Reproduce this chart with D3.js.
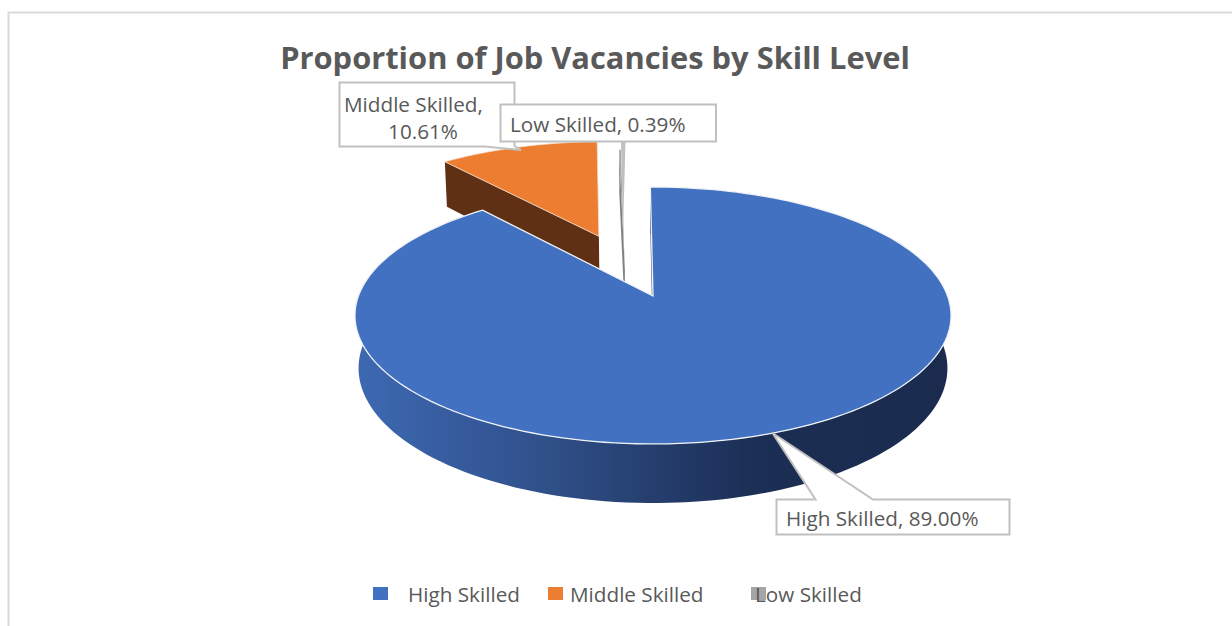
<!DOCTYPE html>
<html>
<head>
<meta charset="utf-8">
<script src="https://cdn.jsdelivr.net/npm/d3@7/dist/d3.min.js"></script>
<style>
html,body{margin:0;padding:0;background:#fff;overflow:hidden}
svg{display:block}
text{font-family:"Open Sans","Noto Sans",sans-serif;fill:#595959}
</style>
</head>
<body>
<svg id="chart" width="1232" height="626"></svg>
<script>
// ---- data ----
const chartTitle = "Proportion of Job Vacancies by Skill Level";
const categories = ["High Skilled", "Middle Skilled", "Low Skilled"];
const shares = [89.00, 10.61, 0.39];
const sliceColors = ["#4271c1", "#ed7d31", "#a5a5a5"];
const wallColors = ["#1a2b4e", "#5f3013", "#4a4a4a"];
const explodeDistance = [0, 0.55, 0.237];
const explodeDirectionDeg = [null, null, 335.4];
const radiusScale = [1, 1, 1.2];
const sweepScale = [1, 1, 0.25];
const pieRotationDeg = -0.6;

// ---- projection of the tilted disc ----
const P = {cx:653, cy:296, A:294.6, B:125.5, C:52.6, q:0.1518, r:0.012};
function project(u, v, z) {
  const d = 1 - P.q * v + P.r * z;
  return [P.cx + P.A * u / d, P.cy + (P.B * v + P.C * z) / d];
}
const rad = d => d * Math.PI / 180;
const line = d3.line();
const svg = d3.select("#chart");

const arcs = d3.pie().sort(null).value(d => d)
  .startAngle(rad(pieRotationDeg)).endAngle(rad(pieRotationDeg) + 2 * Math.PI)(shares);

const slices = arcs.map((a, i) => {
  const mid = (a.startAngle + a.endAngle) / 2;
  const dir = explodeDirectionDeg[i] === null ? mid : rad(explodeDirectionDeg[i]);
  const ou = explodeDistance[i] * Math.sin(dir), ov = -explodeDistance[i] * Math.cos(dir);
  const half = (a.endAngle - a.startAngle) / 2 * sweepScale[i];
  let a0 = mid - half, a1 = mid + half;
  if (i === 2) { a0 -= rad(0.5); a1 -= rad(0.5); }
  const R = radiusScale[i];
  const pt = (t, z) => project(ou + R * Math.sin(t), ov - R * Math.cos(t), z);
  const apex = z => project(ou, ov, z);
  const samples = d3.range(0, 181).map(k => a0 + (a1 - a0) * k / 180);
  return {i, a0, a1, pt, apex, samples};
});

const topFace = s => line([s.apex(0), ...s.samples.map(t => s.pt(t, 0))]) + "Z";
const cutFace = (s, t) => line([s.apex(0), s.pt(t, 0), s.pt(t, 1), s.apex(1)]) + "Z";
const rimWall = s => line([...s.samples.map(t => s.pt(t, 1)), ...s.samples.slice().reverse().map(t => s.pt(t, 0))]) + "Z";

// ---- gradient of the rim ----
const grad = svg.append("defs").append("linearGradient").attr("id", "rim")
  .attr("gradientUnits", "userSpaceOnUse").attr("x1", 355).attr("x2", 951).attr("y1", 0).attr("y2", 0);
[[0, "#3d69b2"], [0.2, "#35599a"], [0.33, "#2f4f88"], [0.5, "#253e6e"], [0.68, "#1b2e53"], [1, "#1a2b4e"]]
  .forEach(([o, c]) => grad.append("stop").attr("offset", o).attr("stop-color", c));

// ---- frame ----
svg.append("path").attr("d", "M8.5,626V12.5H1232").attr("fill", "none").attr("stroke", "#d9d9d9").attr("stroke-width", 2);

// ---- title ----
svg.append("text").attr("x", 595).attr("y", 69).attr("text-anchor", "middle")
  .attr("font-size", 30.85).attr("font-weight", 700).text(chartTitle);

// ---- slices ----
const [hi, mi, lo] = slices;
svg.append("path").attr("d", cutFace(mi, mi.a0)).attr("fill", wallColors[1]);
svg.append("path").attr("d", topFace(mi)).attr("fill", sliceColors[1]).attr("stroke", "#f6e3d6").attr("stroke-width", 0.8);
svg.append("path").attr("d", cutFace(lo, lo.a0)).attr("fill", wallColors[2]).attr("opacity", 0.7);
svg.append("path").attr("d", topFace(lo)).attr("fill", sliceColors[2]);
svg.append("path").attr("d", cutFace(hi, hi.a0)).attr("fill", "#44546a");
svg.append("path").attr("d", rimWall(hi)).attr("fill", "url(#rim)");
svg.append("path").attr("d", topFace(hi)).attr("fill", sliceColors[0]).attr("stroke", "#f0f3f8").attr("stroke-width", 1.3);

// ---- callouts ----
const calloutStroke = "#c0c0c0";
function callout(path) {
  svg.append("path").attr("d", path).attr("fill", "#fff").attr("stroke", calloutStroke)
    .attr("stroke-width", 2).attr("stroke-linejoin", "miter");
}
callout("M339.5,82.5H514.5V146L521,150L485,146.5H339.5Z");
callout("M776.5,499.5H815.5L772.5,433L873,499.5H1009.5V534.5H776.5Z");
callout("M500.5,104.5H716V141.5H500.5Z");
svg.append("path").attr("d", "M621,141.5H625.5L623,232Z").attr("fill", calloutStroke);

const labelSize = 20.7;
function label(x, y, t, anchor) {
  svg.append("text").attr("x", x).attr("y", y).attr("font-size", labelSize)
    .attr("text-anchor", anchor || "start").text(t);
}
label(344, 112, `${categories[1]},`);
label(423, 139, `${shares[1].toFixed(2)}%`, "middle");
label(510, 132, `${categories[2]}, ${shares[2].toFixed(2)}%`);
label(786, 526, `${categories[0]}, ${shares[0].toFixed(2)}%`);

// ---- legend ----
const legendSwatchX = [373, 548, 751];
const legendTextX = [408, 570, 755];
categories.forEach((c, i) => {
  svg.append("rect").attr("x", legendSwatchX[i]).attr("y", 587).attr("width", 15).attr("height", 13).attr("fill", sliceColors[i]);
  svg.append("text").attr("x", legendTextX[i]).attr("y", 602).attr("font-size", labelSize).text(c);
});
</script>
</body>
</html>
